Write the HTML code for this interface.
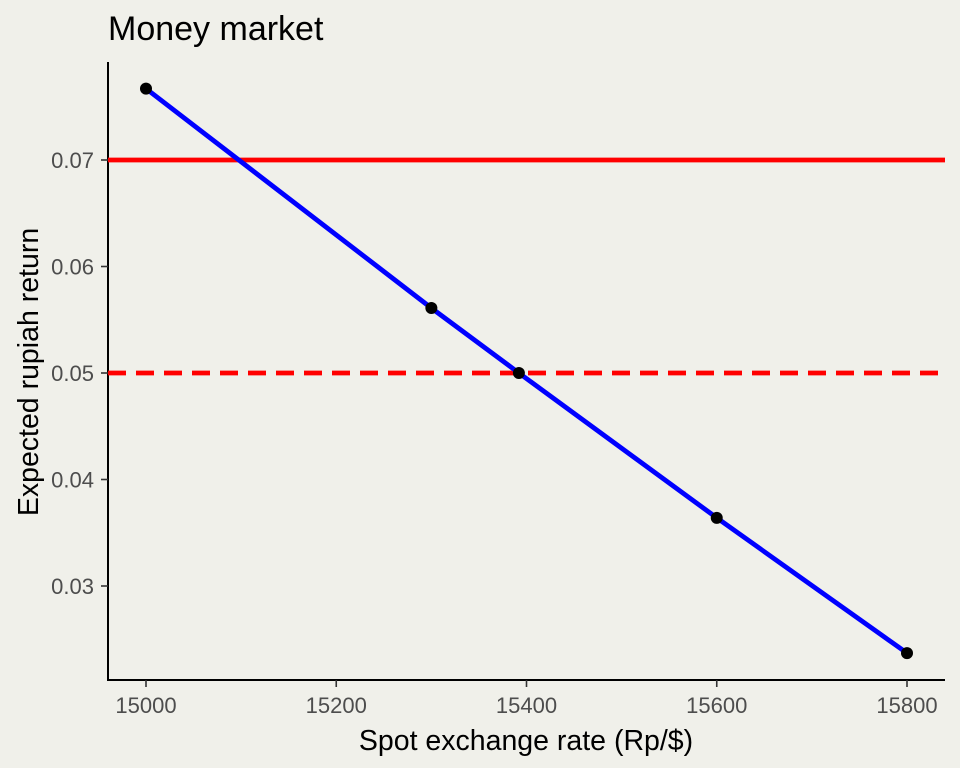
<!DOCTYPE html>
<html><head><meta charset="utf-8"><style>
body{margin:0;background:#f0f0ea;}
svg{display:block;font-family:"Liberation Sans",sans-serif;}
</style></head><body>
<svg id="chart" width="960" height="768">
<rect width="960" height="768" fill="#f0f0ea"/>
<text x="108" y="40" font-size="34" fill="#000">Money market</text>
<g id="plot"></g>
<text x="526" y="750" font-size="28.5" text-anchor="middle" fill="#000">Spot exchange rate (Rp/$)</text>
<text transform="translate(38,372) rotate(-90)" font-size="28.5" text-anchor="middle" fill="#000">Expected rupiah return</text>
</svg>
<script>
const xTicks=[15000,15200,15400,15600,15800];
const yTicks=[0.03,0.04,0.05,0.06,0.07];
const spotRates=[15000,15300,15392,15600,15800];
const expReturns=[0.0767,0.0561,0.05,0.0364,0.0237];
const solidRate=[0.07];
const dashedRate=[0.05];
const NS="http://www.w3.org/2000/svg";
const g=document.getElementById('plot');
const L=108,R=945,B=680;
function sx(v){return 146+(v-15000)*(907-146)/800;}
function sy(v){return 160-(v-0.07)*10650;}
function mk(t,a){const e=document.createElementNS(NS,t);for(const k in a)e.setAttribute(k,a[k]);g.appendChild(e);return e;}
let e;
e=mk('line',{x1:L,y1:62,x2:L,y2:B+1,stroke:'#000','stroke-width':2});


e=mk('line',{x1:L-1,y1:B,x2:R,y2:B,stroke:'#000','stroke-width':2});


xTicks.forEach(v=>{
 e=mk('line',{x1:sx(v),y1:B,x2:sx(v),y2:B+7,stroke:'#333','stroke-width':1.6});
 
 
 e=mk('text',{x:sx(v),y:B+33,'font-size':22,'text-anchor':'middle',fill:'#4d4d4d'});e.textContent=v;
 
 
});
yTicks.forEach(v=>{
 e=mk('line',{x1:L-7,y1:sy(v),x2:L,y2:sy(v),stroke:'#333','stroke-width':1.6});
 
 
 e=mk('text',{x:L-14,y:sy(v)+8,'font-size':22,'text-anchor':'end',fill:'#4d4d4d'});e.textContent=v.toFixed(2);
 
 
});
solidRate.forEach(v=>{
 e=mk('line',{x1:L,y1:sy(v),x2:R,y2:sy(v),stroke:'#ff0000','stroke-width':4.8});
 
 
});
dashedRate.forEach(v=>{
 e=mk('line',{x1:L,y1:sy(v),x2:R,y2:sy(v),stroke:'#ff0000','stroke-width':4.8,'stroke-dasharray':'18 10'});
 
 
});
e=mk('polyline',{points:spotRates.map((s,i)=>sx(s)+','+sy(expReturns[i])).join(' '),fill:'none',stroke:'#0000ff','stroke-width':4.8});


spotRates.forEach((s,i)=>{
 e=mk('circle',{cx:sx(s),cy:sy(expReturns[i]),r:6,fill:'#000'});
 
 
});
</script>
</body></html>
